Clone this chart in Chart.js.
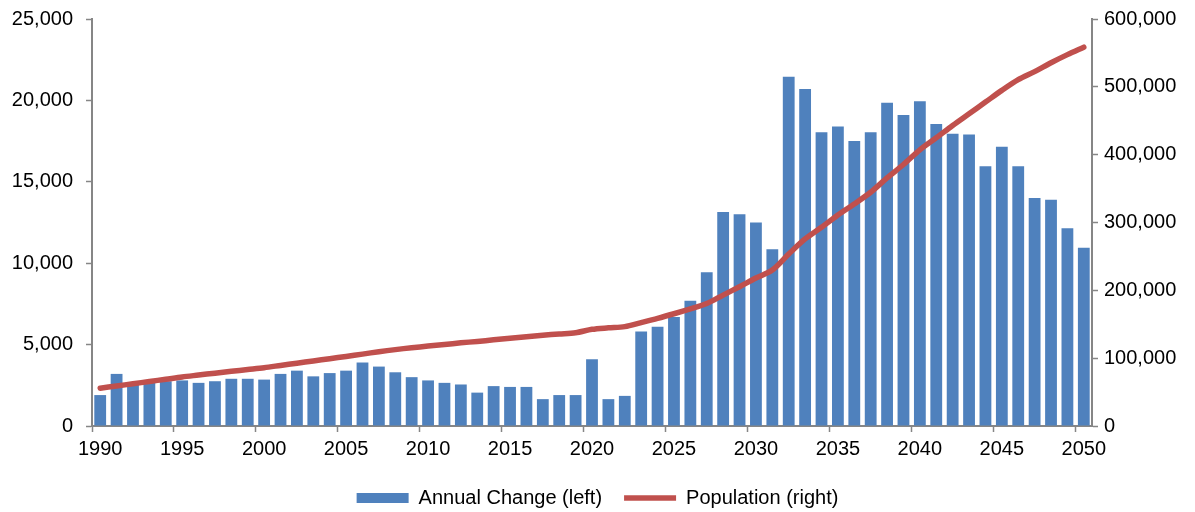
<!DOCTYPE html>
<html>
<head>
<meta charset="utf-8">
<script src="https://cdn.jsdelivr.net/npm/chart.js@4/dist/chart.umd.min.js"></script>
<style>
  html, body { margin: 0; padding: 0; background: #fff; }
  #wrap { width: 1195px; height: 512px; }
</style>
</head>
<body>
<div id="wrap"><canvas id="myChart"></canvas></div>
<script>
// years 1990..2050
const years = [];
for (let y = 1990; y <= 2050; y++) years.push(String(y));

// annual change (left axis)
const annualChange = [
  1900, 3200, 2700, 2650, 2750, 2800, 2650, 2750, 2900, 2900,
  2850, 3200, 3400, 3050, 3250, 3400, 3900, 3650, 3300, 3000,
  2800, 2650, 2550, 2050, 2450, 2400, 2400, 1650, 1900, 1900,
  4100, 1650, 1850, 5800, 6100, 6700, 7700, 9450, 13150, 13000,
  12500, 10850, 21450, 20700, 18050, 18400, 17500, 18050, 19850, 19100,
  19950, 18550, 17950, 17900, 15950, 17150, 15950, 14000, 13900, 12150,
  10950
];

// population (right axis)
const population = [
  55700, 59000, 62300, 65600, 68900, 72300, 75100, 77900, 80600, 83300,
  86000, 89300, 92600, 95900, 99200, 102500, 106000, 109500, 112600, 115400,
  117800, 120200, 122600, 124700, 127000, 129400, 131700, 133800, 135600, 137400,
  142500, 144700, 146500, 152500, 158700, 165500, 172700, 180500, 193000, 205300,
  218100, 229900, 253500, 275700, 292900, 311200, 327400, 344600, 365800, 385500,
  407200, 424900, 443100, 460300, 477500, 494800, 510600, 522500, 535500, 547500,
  558500
];

const leftTicks = [0, 5000, 10000, 15000, 20000, 25000];
const rightTicks = [0, 100000, 200000, 300000, 400000, 500000, 600000];

const axisGray = '#868686';
const fontBase = { family: 'Arial, "Liberation Sans", sans-serif', size: 20 };

Chart.defaults.font = fontBase;
Chart.defaults.color = '#000';

const ctx = document.getElementById('myChart');
new Chart(ctx, {
  type: 'bar',
  data: {
    labels: years,
    datasets: [{
      type: 'bar',
      label: 'Annual Change (left)',
      data: annualChange,
      backgroundColor: '#4F81BD',
      borderWidth: 0,
      categoryPercentage: 1,
      barPercentage: 0.72,
      yAxisID: 'y',
      order: 1
    }, {
      type: 'line',
      label: 'Population (right)',
      data: population,
      borderColor: '#C0504D',
      backgroundColor: '#C0504D',
      borderWidth: 5.5,
      borderCapStyle: 'round',
      pointRadius: 0,
      tension: 0.3,
      yAxisID: 'y1',
      order: 0
    }]
  },
  options: {
    responsive: true,
    maintainAspectRatio: false,
    animation: false,
    layout: { padding: { top: 19, bottom: -6, left: 0, right: 0 } },
    plugins: {
      tooltip: { enabled: false },
      legend: {
        position: 'bottom',
        labels: {
          usePointStyle: true,
          pointStyleWidth: 52,
          boxHeight: 10,
          padding: 22,
          font: fontBase,
          sort: (a, b) => a.datasetIndex - b.datasetIndex,
          generateLabels: (chart) => {
            const items = Chart.defaults.plugins.legend.labels.generateLabels(chart);
            items.forEach(it => {
              it.pointStyle = it.datasetIndex === 0 ? 'rect' : 'line';
            });
            return items;
          }
        }
      }
    },
    scales: {
      x: {
        offset: true,
        grid: {
          offset: true,
          drawOnChartArea: false,
          tickLength: 6,
          tickWidth: 1.5,
          tickColor: (c) => (c.index % 5 === 0 ? axisGray : 'rgba(0,0,0,0)')
        },
        border: { color: axisGray, width: 2 },
        ticks: {
          autoSkip: false,
          maxRotation: 0,
          padding: 5,
          callback: function (val, i) {
            const y = Number(years[i]);
            return y % 5 === 0 ? years[i] : '';
          }
        }
      },
      y: {
        position: 'left',
        min: leftTicks[0],
        max: leftTicks[leftTicks.length - 1],
        afterBuildTicks: (s) => { s.ticks = leftTicks.map(v => ({ value: v })); },
        afterFit: (s) => { s.width = 92; s.paddingTop = 0; },
        grid: { drawOnChartArea: false, tickLength: 6, tickWidth: 1.5, tickColor: axisGray },
        border: { color: axisGray, width: 2 },
        ticks: {
          padding: 13,
          callback: (v) => v.toLocaleString('en-US')
        }
      },
      y1: {
        position: 'right',
        min: rightTicks[0],
        max: rightTicks[rightTicks.length - 1],
        afterBuildTicks: (s) => { s.ticks = rightTicks.map(v => ({ value: v })); },
        afterFit: (s) => { s.width = 103; s.paddingTop = 0; },
        grid: { drawOnChartArea: false, tickLength: 6, tickWidth: 1.5, tickColor: axisGray },
        border: { color: axisGray, width: 2 },
        ticks: {
          padding: 6,
          callback: (v) => v.toLocaleString('en-US')
        }
      }
    }
  }
});
</script>
</body>
</html>
